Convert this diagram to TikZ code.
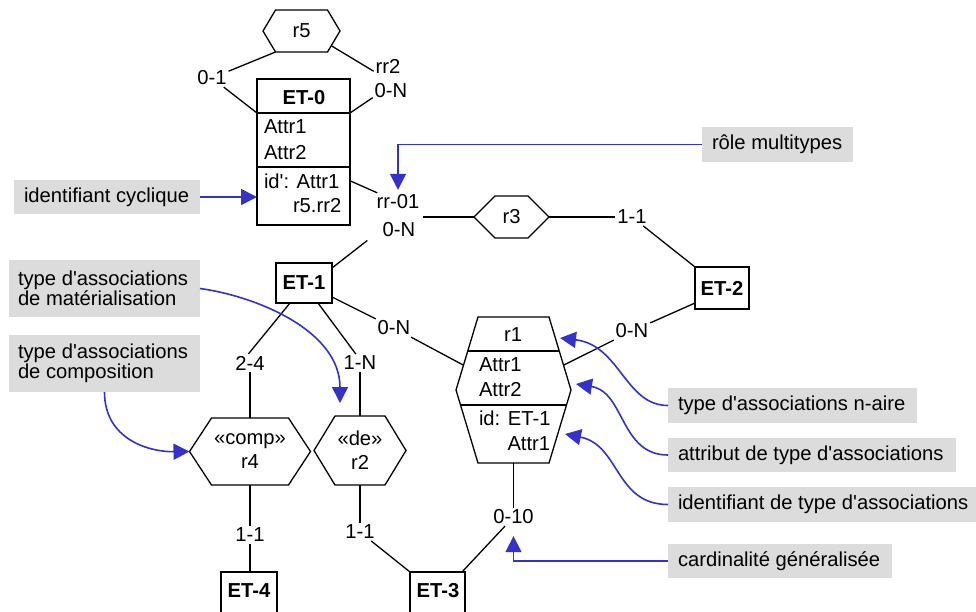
\documentclass[tikz,border=0pt]{standalone}
\usepackage{fontspec}
\setmainfont{Liberation Sans}[Ligatures=TeXOff]
\usetikzlibrary{arrows.meta,calc}
\definecolor{noteGray}{HTML}{DCDCDC}
\definecolor{linkBlue}{HTML}{3333CC}
% hexagon outline around a core node: #1 node name, #2 point depth
\newcommand{\drawhex}[2]{%
  \coordinate (#1-w) at ([xshift=-#2]#1.west);
  \coordinate (#1-e) at ([xshift=#2]#1.east);
  \draw[ln] (#1.north west) -- (#1.north east) -- (#1-e) -- (#1.south east)
    -- (#1.south west) -- (#1-w) -- cycle;}
\begin{document}
\begin{tikzpicture}[x=1pt,y=-1pt,
  every node/.style={inner sep=0pt, outer sep=0pt},
  fnt/.style={font=\fontsize{20.2}{24}\selectfont},
  bfnt/.style={font=\fontsize{20.2}{24}\selectfont\bfseries},
  ln/.style={line width=1.3pt},
  lab/.style={fnt, inner sep=2pt},
  etbox/.style={draw, ln, bfnt},
  frame/.style={draw, ln},
  core/.style={fnt, align=center},
  note/.style={fill=noteGray},
  notetext/.style={anchor=west, align=left, font=\fontsize{20.2}{20}\selectfont},
  link/.style={draw=linkBlue, line width=1.6pt, -{Triangle[length=16pt,width=16pt]}},
]
\useasboundingbox (0,0) rectangle (976,611);

% ---------- entity types ----------
\node[frame, minimum width=93, minimum height=146] (et0) at (303.5,152) {};
\draw[ln] ([yshift=-34pt]et0.north west) -- ([yshift=-34pt]et0.north east);
\draw[ln] ([yshift=-88pt]et0.north west) -- ([yshift=-88pt]et0.north east);
\node[bfnt, anchor=base] (et0-n) at (304,104) {ET-0};
\node[fnt, anchor=base west] (et0-a1) at (264,133.5) {Attr1};
\node[fnt, anchor=base west] (et0-a2) at (264,159.5) {Attr2};
\node[fnt, anchor=base west] (et0-id) at (264,188) {id': Attr1};
\node[fnt, anchor=base west] (et0-id2) at (293,212.5) {r5.rr2};

\node[etbox, minimum width=56, minimum height=40] (et1) at (304,283) {ET-1};
\node[etbox, minimum width=54, minimum height=42] (et2) at (722,288) {ET-2};

\node[frame, minimum width=55, minimum height=46] (et3) at (437.5,595) {};
\node[bfnt, anchor=base] (et3-n) at (438,597) {ET-3};
\node[frame, minimum width=56, minimum height=46] (et4) at (249,595) {};
\node[bfnt, anchor=base] (et4-n) at (249,597) {ET-4};

% ---------- relationship types ----------
\node[core, minimum width=52, minimum height=42] (r5) at (301.5,31) {r5};
\drawhex{r5}{12.5pt}
\node[core, minimum width=33, minimum height=42] (r3) at (511.5,217) {r3};
\drawhex{r3}{21pt}
\node[core, minimum width=77, minimum height=67] (r4) at (250,451.5) {«comp»\\r4};
\drawhex{r4}{22pt}
\node[core, minimum width=50, minimum height=69] (r2) at (360,450.5) {«de»\\r2};
\drawhex{r2}{21pt}

\node[minimum width=71, minimum height=146] (r1) at (513.5,390) {};
\drawhex{r1}{22pt}
\draw[ln] ($(r1.north west)!0.466!(r1-w)$) -- ($(r1.north east)!0.466!(r1-e)$);
\draw[ln] ($(r1-w)!0.205!(r1.south west)$) -- ($(r1-e)!0.205!(r1.south east)$);
\node[fnt, anchor=base] (r1-n) at (513,341.5) {r1};
\node[fnt, anchor=base west] (r1-a1) at (479,371.5) {Attr1};
\node[fnt, anchor=base west] (r1-a2) at (479,396.5) {Attr2};
\node[fnt, anchor=base west] (r1-id) at (479,425) {id: ET-1};
\node[fnt, anchor=base west] (r1-id2) at (507.5,450) {Attr1};

% ---------- role labels ----------
\node[lab] (l01) at (212,78) {0-1};
\node[lab] (lrr2) at (388,66) {rr2};
\node[lab] (l0Na) at (391,91) {0-N};
\node[lab] (lrr01) at (398,202) {rr-01};
\node[lab] (l0Nb) at (399,230) {0-N};
\node[lab] (l11a) at (632,217) {1-1};
\node[lab] (l0Nc) at (632,331) {0-N};
\node[lab] (l0Nd) at (394,328) {0-N};
\node[lab] (l24) at (250,363) {2-4};
\node[lab] (l1N) at (360,363) {1-N};
\node[lab] (l11b) at (250,535) {1-1};
\node[lab] (l11c) at (360,532) {1-1};
\node[lab] (l010) at (513.5,517) {0-10};
\coordinate (mt) at (423,217);

% ---------- roles ----------
\draw[ln] (r5.south west) -- (l01);
\draw[ln] (l01) -- ([yshift=-34pt]et0.north west);
\draw[ln] ($(r5.south east)!0.3!(r5-e)$) -- (lrr2.200);
\draw[ln] (l0Na.200) -- ([yshift=-34pt]et0.north east);
\draw[ln] (et0.east |- et0-id) -- (lrr01);
\draw[ln, shorten >=17pt] ([yshift=-5pt]et1.north east) -- (l0Nb.west);
\draw[ln] (mt) -- (r3-w);
\draw[ln] (r3-e) -- (l11a);
\draw[ln] (l11a) -- (et2.north west);
\draw[ln] ([yshift=6pt]et2.south west) -- (l0Nc);
\draw[ln] (l0Nc) -- ($(r1.north east)!0.66!(r1-e)$);
\draw[ln] ([yshift=6pt]et1.south east) -- (l0Nd);
\draw[ln] (l0Nd) -- ($(r1.north west)!0.66!(r1-w)$);
\draw[ln] ([xshift=14pt]et1.south west) -- (l24.100);
\draw[ln] (l24) -- (r4.north);
\draw[ln] ([xshift=-14pt]et1.south east) -- (l1N.115);
\draw[ln] (l1N) -- (r2.north);
\draw[ln] (r4.south) -- (l11b);
\draw[ln] (l11b) -- (l11b |- et4.north);
\draw[ln] (r2.south) -- (l11c);
\draw[ln] (l11c) -- (et3.north west);
\draw[ln] (r1.south) -- (l010);
\draw[ln] (l010) -- ([xshift=-3pt]et3.north east);

% ---------- annotations ----------
\node[note, minimum width=151, minimum height=35] (rm) at (777.5,144.5) {};
\node[notetext] (rm-t) at ([xshift=10pt]rm.west) {rôle multitypes};
\node[note, minimum width=186, minimum height=34] (ic) at (107,197) {};
\node[notetext] (ic-t) at ([xshift=10pt]ic.west) {identifiant cyclique};
\node[note, minimum width=191, minimum height=57] (mat) at (104.5,288.5) {};
\node[notetext] (mat-t) at ([xshift=9pt]mat.west) {type d'associations\\de matérialisation};
\node[note, minimum width=191, minimum height=57] (comp) at (104.5,363.5) {};
\node[notetext] (comp-t) at ([xshift=9pt]comp.west) {type d'associations\\de composition};
\node[note, minimum width=249, minimum height=35] (naire) at (792.5,405.5) {};
\node[notetext] (naire-t) at ([xshift=10pt]naire.west) {type d'associations n-aire};
\node[note, minimum width=288, minimum height=34] (attr) at (812,455) {};
\node[notetext] (attr-t) at ([xshift=10pt]attr.west) {attribut de type d'associations};
\node[note, minimum width=308, minimum height=35] (idt) at (822,504.5) {};
\node[notetext] (idt-t) at ([xshift=10pt]idt.west) {identifiant de type d'associations};
\node[note, minimum width=224, minimum height=34] (card) at (780,561) {};
\node[notetext] (card-t) at ([xshift=10pt]card.west) {cardinalité généralisée};

\coordinate (tr2) at (340,403);
\coordinate (tn) at (560,338);
\coordinate (ta) at (576,384);
\coordinate (ti) at (565,434);

\draw[link] (rm.west) -| ([yshift=3pt]lrr01.north);
\draw[link] (ic.east) -- (ic.east -| et0.west);
\draw[link] (mat.east) .. controls (255,296) and (340,330) .. (tr2);
\draw[link] (comp.south) .. controls (104.5,440) and (150,452) .. (r4-w);
\draw[link] (naire.west) .. controls (625,405.5) and (620,345) .. (tn);
\draw[link] (attr.west) .. controls (620,455) and (625,392) .. (ta);
\draw[link] (idt.west) .. controls (615,504.5) and (620,445) .. (ti);
\draw[link] (card.west) -| ([yshift=-10pt]l010.south);
\end{tikzpicture}
\end{document}
